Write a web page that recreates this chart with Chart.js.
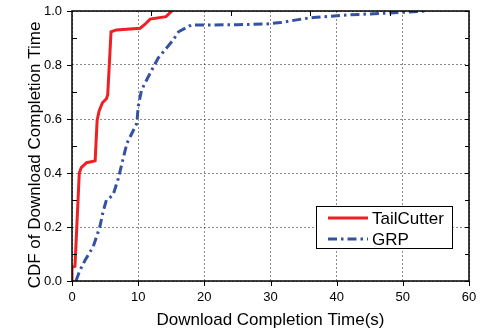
<!DOCTYPE html>
<html>
<head>
<meta charset="utf-8">
<script src="https://cdn.jsdelivr.net/npm/chart.js@4.4.1/dist/chart.umd.min.js"></script>
<style>
  html, body { margin: 0; padding: 0; background: #fff; }
  #wrap { width: 481px; height: 335px; }
</style>
</head>
<body>
<div id="wrap"><canvas id="cdf-chart"></canvas></div>
<script>
const seriesNames = ["TailCutter", "GRP"]
const yTitle = "CDF of Download Completion Time"

const tailCutterTime = [0, 0, 0.45, 1.1, 1.4, 2.2, 3.5, 3.8, 4.1, 4.6, 5.2, 5.4, 5.9, 6.7, 10.3, 11.0, 11.8, 14.2, 15.1]
const tailCutterCdf = [0, 0.05, 0.055, 0.40, 0.42, 0.438, 0.445, 0.596, 0.63, 0.66, 0.675, 0.69, 0.923, 0.93, 0.936, 0.95, 0.97, 0.979, 1.0]

const grpTime = [0.6, 1.2, 2.0, 3.2, 4.2, 4.7, 5.2, 6.2, 7.0, 8.3, 9.8, 10.0, 10.5, 11.8, 13.0, 15.3, 16.1, 18.0, 25, 29.4, 31.5, 34.4, 36.5, 41.5, 46.5, 50, 53.5]
const grpCdf = [0, 0.04, 0.078, 0.127, 0.2, 0.257, 0.30, 0.318, 0.38, 0.51, 0.584, 0.645, 0.707, 0.769, 0.825, 0.893, 0.923, 0.948, 0.949, 0.952, 0.957, 0.969, 0.976, 0.985, 0.991, 0.995, 1.0]

const xTicks = [0, 10, 20, 30, 40, 50, 60]
const yTicks = [0.0, 0.2, 0.4, 0.6, 0.8, 1.0]

const toPoints = (xs, ys) => xs.map((x, i) => ({ x: x, y: ys[i] }))

const FONT = "'Liberation Sans', Arial, sans-serif"

// frame, tick marks, y title and the boxed legend, drawn like the original plot
const framePlugin = {
  id: 'frameTicks',
  afterDraw: (chart) => {
    const { ctx, chartArea: a } = chart
    const xs = chart.scales.x, ys = chart.scales.y
    ctx.save()
    ctx.strokeStyle = '#000'
    ctx.lineWidth = 1.5
    ctx.strokeRect(a.left, a.top, a.right - a.left, a.bottom - a.top)
    ctx.lineWidth = 1
    ctx.beginPath()
    // left: major outside, minor inside
    for (let v = 0; v <= 1.0001; v += 0.1) {
      const y = Math.round(ys.getPixelForValue(v)) + 0.5
      const major = Math.round(v * 10) % 2 === 0
      if (major) { ctx.moveTo(a.left - 5, y); ctx.lineTo(a.left, y) }
      else { ctx.moveTo(a.left, y); ctx.lineTo(a.left + 5, y) }
      // right side ticks point inward
      ctx.moveTo(a.right, y); ctx.lineTo(a.right - 4, y)
    }
    // bottom major ticks outside
    xTicks.forEach((v) => {
      const x = Math.round(xs.getPixelForValue(v)) + 0.5
      ctx.moveTo(x, a.bottom); ctx.lineTo(x, a.bottom + 5)
    })
    // top ticks every 12 pointing down
    for (let v = 12; v < 60; v += 12) {
      const x = Math.round(xs.getPixelForValue(v)) + 0.5
      ctx.moveTo(x, a.top); ctx.lineTo(x, a.top + 5)
    }
    ctx.stroke()

    // y title (sits a bit below the middle of the axis in the original)
    ctx.save()
    ctx.translate(35, 155)
    ctx.rotate(-Math.PI / 2)
    ctx.fillStyle = '#000'
    ctx.font = '17px ' + FONT
    ctx.textAlign = 'center'
    ctx.textBaseline = 'middle'
    ctx.fillText(yTitle, 0, 0)
    ctx.restore()

    // legend
    const bx = 316, by = 206, bw = 136, bh = 42
    ctx.fillStyle = '#fff'
    ctx.fillRect(bx, by, bw, bh)
    ctx.lineWidth = 1
    ctx.strokeStyle = '#000'
    ctx.strokeRect(bx + 0.5, by + 0.5, bw, bh)
    chart.data.datasets.forEach((ds, i) => {
      const y = by + 12 + i * 21
      ctx.strokeStyle = ds.borderColor
      ctx.lineWidth = ds.borderWidth
      ctx.setLineDash(ds.borderDash || [])
      ctx.beginPath()
      ctx.moveTo(bx + 12, y)
      ctx.lineTo(bx + 52, y)
      ctx.stroke()
      ctx.setLineDash([])
      ctx.fillStyle = '#000'
      ctx.font = '17px ' + FONT
      ctx.textBaseline = 'middle'
      ctx.fillText(ds.label, bx + 56, y + 1)
    })
    ctx.restore()
  }
}

new Chart(document.getElementById('cdf-chart'), {
  type: 'line',
  data: {
    datasets: [
      {
        label: seriesNames[0],
        data: toPoints(tailCutterTime, tailCutterCdf),
        borderColor: 'rgb(237,32,36)',
        borderWidth: 3,
        pointRadius: 0,
        tension: 0
      },
      {
        label: seriesNames[1],
        data: toPoints(grpTime, grpCdf),
        borderColor: 'rgb(52,82,164)',
        borderWidth: 3,
        borderDash: [9, 4, 2.5, 4],
        pointRadius: 0,
        tension: 0
      }
    ]
  },
  options: {
    responsive: true,
    maintainAspectRatio: false,
    animation: false,
    layout: { padding: { top: 11, right: 12, left: 0, bottom: 0 } },
    plugins: {
      legend: { display: false },
      tooltip: { enabled: false }
    },
    scales: {
      x: {
        type: 'linear',
        min: 0,
        max: 60,
        afterFit: (s) => { s.height = 54; s.paddingLeft = 0; s.paddingRight = 0 },
        afterBuildTicks: (s) => { s.ticks = xTicks.map((v) => ({ value: v })) },
        border: { display: false, dash: [2, 2] },
        grid: { color: 'rgba(0,0,0,0.45)', drawTicks: false, lineWidth: 1 },
        ticks: { color: '#000', font: { family: FONT, size: 13 }, padding: 9, maxRotation: 0 },
        title: {
          display: true,
          text: 'Download Completion Time(s)',
          color: '#000',
          font: { family: FONT, size: 17 },
          padding: { top: 0, bottom: 4 }
        }
      },
      y: {
        min: 0,
        max: 1,
        afterFit: (s) => { s.width = 72; s.paddingTop = 0; s.paddingBottom = 0 },
        afterBuildTicks: (s) => { s.ticks = yTicks.map((v) => ({ value: v })) },
        border: { display: false, dash: [2, 2] },
        grid: { color: 'rgba(0,0,0,0.45)', drawTicks: false, lineWidth: 1 },
        ticks: {
          color: '#000',
          font: { family: FONT, size: 13 },
          padding: 10,
          callback: (v) => Number(v).toFixed(1)
        },
        title: { display: false }
      }
    }
  },
  plugins: [framePlugin]
})
</script>
</body>
</html>
